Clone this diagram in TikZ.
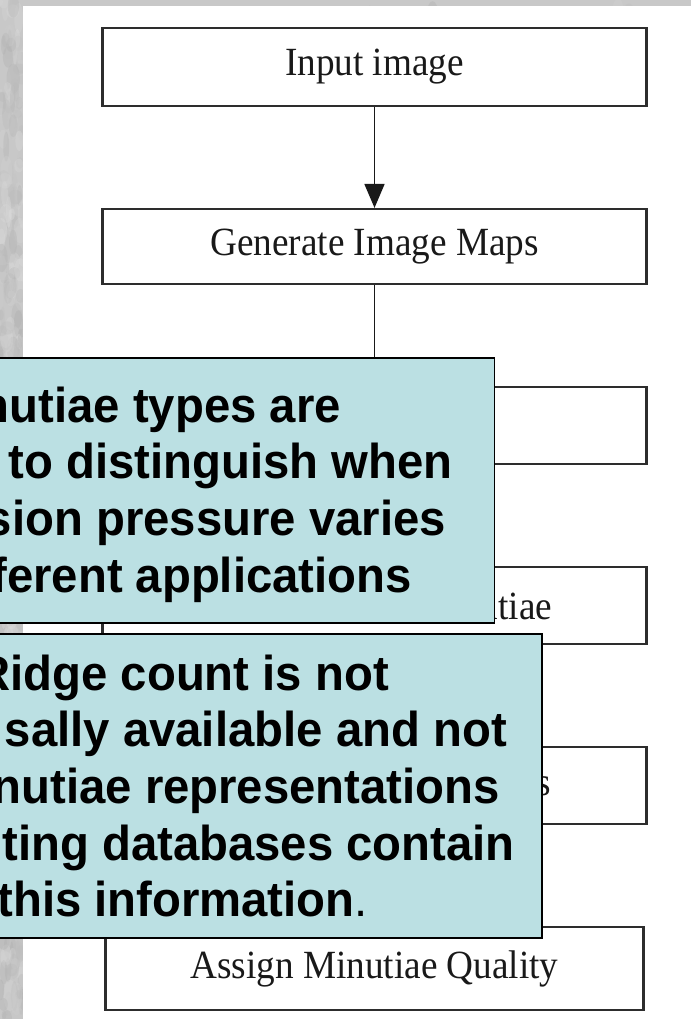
\documentclass[tikz,border=0pt]{standalone}
\usepackage{fontspec}
\setmainfont[FakeStretch=0.93]{Liberation Serif}
\newfontfamily\notefont[FakeStretch=0.965]{Liberation Sans}
\usetikzlibrary{arrows.meta}
\definecolor{notefill}{RGB}{187,224,227}
\definecolor{backgrey}{RGB}{200,200,200}
\definecolor{boxline}{RGB}{45,45,45}
\begin{document}
\begin{tikzpicture}[x=1pt,y=-1pt,
  stepbox/.style={draw=boxline, line width=2.2pt, fill=white, minimum width=544pt,
    inner sep=0pt, font=\fontsize{40}{46}\selectfont, text=black!90},
  flow/.style={draw=black!90, line width=1.8pt, -{Triangle[width=20pt,length=24pt]}},
  notebox/.style={draw=black, line width=1.8pt, fill=notefill, inner sep=0pt},
  noteline/.style={anchor=base east, inner sep=0pt,
    font=\notefont\bfseries\fontsize{49}{57}\selectfont}
]
\useasboundingbox (0,0) rectangle (691,1019);
% mottled grey page background
\fill[backgrey] (0,0) rectangle (691,1019);
\begin{scope}
  \clip (0,0) rectangle (23,1019) (0,0) rectangle (691,6);
  \pgfmathsetseed{11}
  \foreach \i in {1,...,420} {
    \pgfmathsetmacro\xx{rnd*691}
    \pgfmathsetmacro\yy{rnd*1019}
    \pgfmathsetmacro\ww{2+rnd*5}
    \pgfmathsetmacro\hh{4+rnd*12}
    \pgfmathtruncatemacro\sh{68+rnd*20}
    \fill[white!\sh!black, opacity=0.35] (\xx,\yy) ellipse[x radius=\ww, y radius=\hh];
  }
  \foreach \i in {1,...,420} {
    \pgfmathsetmacro\xx{rnd*23}
    \pgfmathsetmacro\yy{rnd*1019}
    \pgfmathsetmacro\ww{2+rnd*5}
    \pgfmathsetmacro\hh{4+rnd*12}
    \pgfmathtruncatemacro\sh{68+rnd*20}
    \fill[white!\sh!black, opacity=0.35] (\xx,\yy) ellipse[x radius=\ww, y radius=\hh];
  }
\end{scope}
% white sheet
\fill[white] (23,6) rectangle (691,1019);

% flow chart boxes
\node[stepbox, minimum height=78pt] (b1) at (374.5,67) {Input image};
\node[stepbox, minimum height=75pt] (b2) at (374.5,246.5) {Generate Image Maps};
\node[stepbox, minimum height=77pt] (b3) at (374.5,425.5) {};
\node[stepbox, minimum height=77pt] (b4) at (374.5,605.5) {Remove False Minutiae};
\node[stepbox, minimum height=77pt] (b5) at (374.5,785.5) {Count Neighbor Ridges};
\node[stepbox, minimum height=83pt, minimum width=538pt] (b6) at (374.5,968.5) {Assign Minutiae Quality};

% connectors
\draw[flow] (b1) -- (b2);
\draw[flow] (b2) -- (b3);
\draw[flow] (b3) -- (b4);
\draw[flow] (b4) -- (b5);
\draw[flow] (b5) -- (b6);

% first note
\node[notebox, minimum width=524.5pt, minimum height=265pt] (note1) at (232.25,490.5) {};
\node[noteline] (n1a) at (341,422) {nutiae types are};
\node[noteline] (n1b) at (453,478) {to distinguish when};
\node[noteline] (n1c) at (446,535) {sion pressure varies};
\node[noteline] (n1d) at (412,592) {ferent applications};

% second note
\node[notebox, minimum width=572pt, minimum height=304pt] (note2) at (256,786) {};
\node[noteline] (n2a) at (389,690) {Ridge count is not};
\node[noteline] (n2b) at (507,746.7) {sally available and not};
\node[noteline] (n2c) at (500,803) {nutiae representations};
\node[noteline] (n2d) at (515,860) {ting databases contain};
\node[noteline] (n2e) at (368,916.7) {this information{\mdseries .}};
\end{tikzpicture}
\end{document}
